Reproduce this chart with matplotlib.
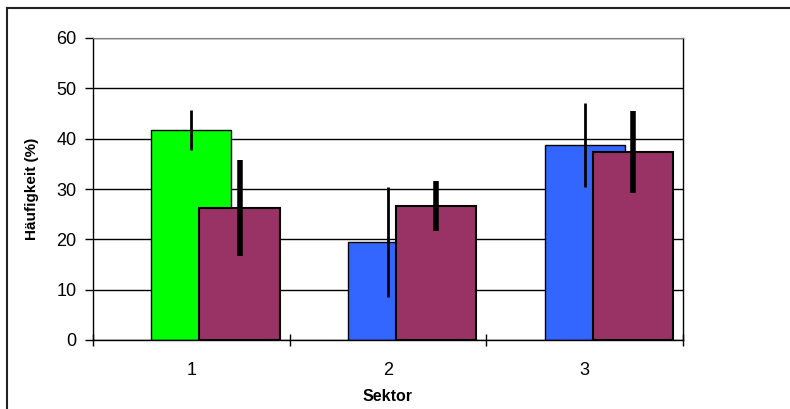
import numpy as np
import matplotlib.pyplot as plt
from matplotlib.lines import Line2D
plt.switch_backend('agg')

plt.rcParams['font.family'] = ['Liberation Sans', 'DejaVu Sans']

# Daten
sektoren = ['1', '2', '3']
werte_a = [41.7, 19.5, 38.7]
fehler_a = [4.0, 10.9, 8.3]
farben_a = ['#00ff00', '#3366ff', '#3366ff']
werte_b = [26.2, 26.6, 37.4]
fehler_b = [9.6, 5.0, 8.1]
farbe_b = '#993366'

fig = plt.figure(figsize=(7.9, 4.09), dpi=100)
ax = fig.add_axes([93 / 790, 1 - 340 / 409, 590 / 790, 302 / 409])

x = np.arange(1, len(sektoren) + 1)
breite = 0.407
versatz = 0.245

ax.bar(x, werte_a, breite, color=farben_a, edgecolor='black', linewidth=1,
       zorder=2)
ax.errorbar(x, werte_a, yerr=fehler_a, fmt='none', ecolor='black',
            elinewidth=2, capsize=0, zorder=3)
ax.bar(x + versatz, werte_b, breite, color=farbe_b, edgecolor='black',
       linewidth=1.5, zorder=4)
ax.errorbar(x + versatz, werte_b, yerr=fehler_b, fmt='none', ecolor='black',
            elinewidth=4, capsize=0, zorder=5)

ax.set_xlim(0.5, 3.5)
ax.set_ylim(0, 60)
ax.set_yticks(range(0, 61, 10))
ax.set_xticks(x)
ax.set_xticklabels(sektoren)
ax.set_xticks([0.5, 1.5, 2.5, 3.5], minor=True)
ax.tick_params(axis='x', which='major', length=0, pad=16, labelsize=13)
ax.tick_params(axis='x', which='minor', direction='inout', length=9,
               width=1, color='black')
ax.tick_params(axis='y', direction='out', length=6, width=1, pad=6,
               labelsize=13)

ax.yaxis.grid(True, color='black', linewidth=1)
ax.set_axisbelow(True)

for s in ['left', 'bottom', 'right']:
    ax.spines[s].set_color('black')
    ax.spines[s].set_linewidth(1)
ax.spines['top'].set_color('#808080')

ax.set_xlabel('Sektor', fontsize=11.5, fontweight='bold', labelpad=7)
ax.set_ylabel('Häufigkeit (%)', fontsize=11, fontweight='bold', labelpad=12)

# äußerer Rahmen
fig.add_artist(Line2D([7 / 790, 1], [1 - 8 / 409, 1 - 8 / 409],
                      color='#222222', linewidth=1.5))
fig.add_artist(Line2D([7 / 790, 7 / 790], [0, 1 - 8 / 409],
                      color='#222222', linewidth=1.5))

plt.savefig('out.png', dpi=100)
